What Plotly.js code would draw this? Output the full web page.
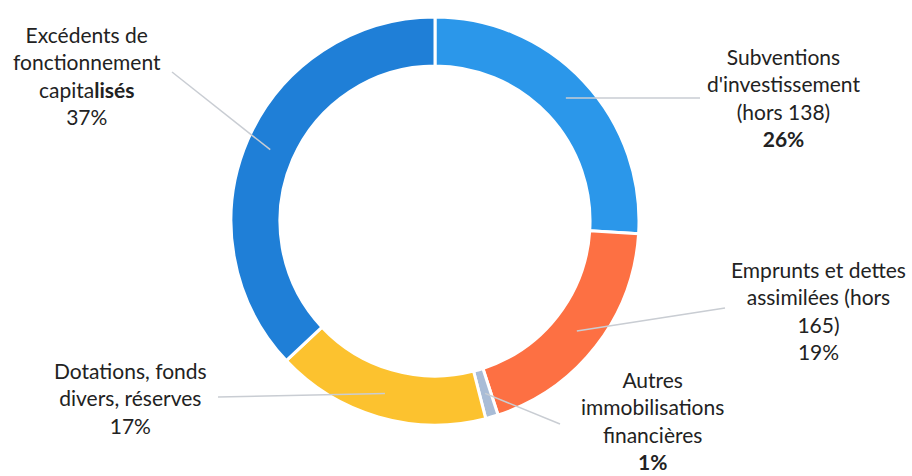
<!DOCTYPE html>
<html>
<head>
<meta charset="utf-8">
<script src="https://cdn.plot.ly/plotly-3.0.1.min.js"></script>
<style>
  html, body { margin: 0; padding: 0; background: #fff; }
  #chart { width: 912px; height: 476px; }
</style>
</head>
<body>
<div id="chart"></div>
<script>
// data (clockwise from 12 o'clock)
const categories = [
  'Subventions d\'investissement (hors 138)',
  'Emprunts et dettes assimilées (hors 165)',
  'Autres immobilisations financières',
  'Dotations, fonds divers, réserves',
  'Excédents de fonctionnement capitalisés'
];
const shares = [26, 19, 1, 17, 37];
const labelTexts = [
  'Subventions<br>d\'investissement<br>(hors 138)<br><b>26%</b>',
  'Emprunts et dettes<br>assimilées (hors<br>165)<br>19%',
  'Autres<br>immobilisations<br>financières<br><b>1%</b>',
  'Dotations, fonds<br>divers, réserves<br>17%',
  'Excédents de<br>fonctionnement<br>capita<b>lisés</b><br>37%'
];
const sliceColors = ['#2b97ea', '#fd7043', '#a9bcd6', '#fcc22f', '#1f7fd7'];

// layout (pixels)
const W = 912, H = 476;
const cx = 435, cy = 221, R = 204;
const labelPos = [[783, 98], [818, 310], [652, 420], [130, 398], [87, 75]];
const lineEnd = [[700, 98], [725, 308], [560, 424], [218, 397], [172, 72]];

const px = x => x / W;
const py = y => 1 - y / H;

// leader lines start in the middle of the ring, at each slice's mid angle
const total = shares.reduce((a, b) => a + b, 0);
const shapes = [];
const annotations = [];
let acc = 0;
shares.forEach((v, i) => {
  const mid = (acc + v / 2) / total * 2 * Math.PI;
  acc += v;
  const r = R * 0.88;
  const sx = cx + r * Math.sin(mid);
  const sy = cy - r * Math.cos(mid);
  shapes.push({
    type: 'line', xref: 'paper', yref: 'paper',
    x0: px(sx), y0: py(sy), x1: px(lineEnd[i][0]), y1: py(lineEnd[i][1]),
    line: { color: '#c9cdd3', width: 1.5 }
  });
  annotations.push({
    xref: 'paper', yref: 'paper',
    x: px(labelPos[i][0]), y: py(labelPos[i][1]),
    xanchor: 'center', yanchor: 'middle', align: 'center',
    showarrow: false, text: labelTexts[i],
    font: { family: 'Lato, sans-serif', size: 21, color: '#222222' }
  });
});

const data = [{
  type: 'pie',
  labels: categories,
  values: shares,
  sort: false,
  direction: 'clockwise',
  rotation: 0,
  hole: 0.76,
  textinfo: 'none',
  hoverinfo: 'label+percent',
  marker: { colors: sliceColors, line: { color: '#ffffff', width: 3 } },
  domain: { x: [px(cx - R), px(cx + R)], y: [py(cy + R), py(cy - R)] }
}];

const layout = {
  width: W,
  height: H,
  margin: { l: 0, r: 0, t: 0, b: 0 },
  showlegend: false,
  paper_bgcolor: '#ffffff',
  shapes: shapes,
  annotations: annotations
};

Plotly.newPlot('chart', data, layout, { displayModeBar: false, staticPlot: true });
</script>
</body>
</html>
